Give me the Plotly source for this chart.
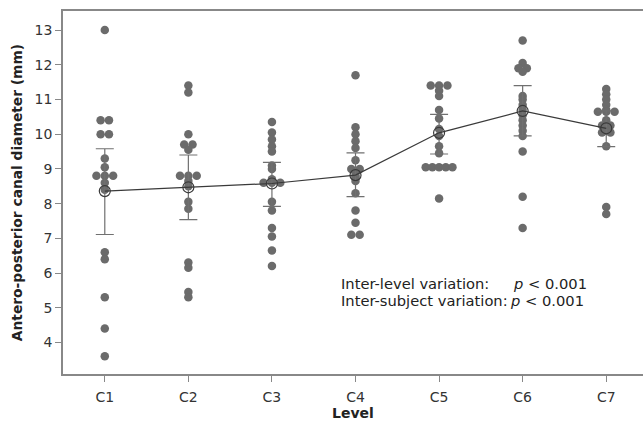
import plotly.graph_objects as go
from collections import Counter

levels = ["C1", "C2", "C3", "C4", "C5", "C6", "C7"]

c1 = [13.0, 10.4, 10.4, 10.0, 10.0, 9.3, 9.05, 8.8, 8.8, 8.8, 8.6, 8.4, 6.6, 6.4, 5.3, 4.4, 3.6]
c2 = [11.4, 11.2, 10.0, 9.7, 9.7, 9.55, 8.8, 8.8, 8.8, 8.65, 8.5, 8.05, 7.85, 6.3, 6.15, 5.45, 5.3]
c3 = [10.35, 10.05, 9.85, 9.65, 9.5, 9.1, 9.0, 8.7, 8.6, 8.6, 8.6, 8.05, 7.8, 7.3, 7.05, 6.65, 6.2]
c4 = [11.7, 10.2, 10.0, 9.8, 9.6, 9.25, 9.0, 9.0, 8.9, 8.8, 8.75, 8.65, 8.3, 7.8, 7.45, 7.1, 7.1]
c5 = [11.4, 11.4, 11.4, 11.25, 11.1, 10.7, 10.45, 10.15, 9.95, 9.65, 9.45, 9.05, 9.05, 9.05, 9.05, 9.05, 8.15]
c6 = [12.7, 12.05, 11.9, 11.9, 11.8, 11.1, 11.0, 10.85, 10.7, 10.55, 10.4, 10.25, 10.1, 9.95, 9.5, 8.2, 7.3]
c7 = [11.3, 11.15, 11.0, 10.85, 10.7, 10.65, 10.65, 10.65, 10.4, 10.25, 10.25, 10.1, 10.05, 10.05, 9.65, 7.9, 7.7]
values = [c1, c2, c3, c4, c5, c6, c7]

means = [8.36, 8.47, 8.58, 8.82, 10.04, 10.67, 10.17]
ci_upper = [9.58, 9.40, 9.19, 9.46, 10.57, 11.40, 10.67]
ci_lower = [7.11, 7.54, 7.92, 8.20, 9.43, 9.95, 9.64]

# individual points with side-by-side placement of equal values
px, py = [], []
for i, vals in enumerate(values):
    pos = i + 1
    counts = Counter(round(v, 2) for v in vals)
    seen = Counter()
    for v in vals:
        k = round(v, 2)
        n = counts[k]
        step = min(0.1, 0.32 / (n - 1)) if n > 1 else 0
        off = (seen[k] - (n - 1) / 2) * step
        seen[k] += 1
        px.append(pos + off)
        py.append(v)

xpos = list(range(1, len(levels) + 1))

fig = go.Figure()
fig.add_trace(go.Scatter(
    x=px, y=py, mode="markers",
    marker=dict(size=8.5, color="#6b6b6b", line=dict(width=0)),
    showlegend=False, hoverinfo="y"))

fig.add_trace(go.Scatter(
    x=xpos, y=means, mode="markers",
    marker=dict(size=1, color="rgba(0,0,0,0)"),
    error_y=dict(type="data", symmetric=False,
                 array=[u - m for u, m in zip(ci_upper, means)],
                 arrayminus=[m - l for m, l in zip(means, ci_lower)],
                 color="#707070", thickness=1.2, width=9),
    showlegend=False, hoverinfo="skip"))

fig.add_trace(go.Scatter(
    x=xpos, y=means, mode="lines+markers",
    line=dict(color="#3a3a3a", width=1.2),
    marker=dict(symbol="circle-open", size=11, color="#3a3a3a", line=dict(width=1.2)),
    showlegend=False))

font = "DejaVu Sans, Verdana, sans-serif"
ann_font = dict(family=font, size=14.7, color="#222")
fig.add_annotation(x=3.8, y=5.71, xref="x", yref="y", text="Inter-level variation:",
                   showarrow=False, xanchor="left", yanchor="middle", font=ann_font)
fig.add_annotation(x=5.86, y=5.71, xref="x", yref="y", text="<i>p</i> < 0.001",
                   showarrow=False, xanchor="left", yanchor="middle", font=ann_font)
fig.add_annotation(x=3.8, y=5.20, xref="x", yref="y", text="Inter-subject variation:",
                   showarrow=False, xanchor="left", yanchor="middle", font=ann_font)
fig.add_annotation(x=5.83, y=5.20, xref="x", yref="y", text="<i>p</i> < 0.001",
                   showarrow=False, xanchor="left", yanchor="middle", font=ann_font)

fig.update_layout(
    width=643, height=425,
    margin=dict(l=63, r=0, t=11, b=51),
    paper_bgcolor="white", plot_bgcolor="white",
    font=dict(family=font, size=14, color="#333"),
    xaxis=dict(range=[0.5, 7.44], tickmode="array", tickvals=xpos, ticktext=levels,
               showgrid=False, zeroline=False, showline=True, linecolor="#888",
               linewidth=1.5, mirror=True, ticks="outside", ticklen=6, tickcolor="#888",
               ticklabelstandoff=3,
               tickfont=dict(size=14, color="#333"),
               title=dict(text="<b>Level</b>", font=dict(size=14, color="#222"), standoff=4)),
    yaxis=dict(range=[3.09, 13.55], tickvals=[4, 5, 6, 7, 8, 9, 10, 11, 12, 13],
               showgrid=False, zeroline=False, showline=True, linecolor="#888",
               linewidth=1.5, ticks="outside", ticklen=6, tickcolor="#888",
               tickfont=dict(size=14, color="#333"),
               title=dict(text="<b>Antero-posterior canal diameter (mm)</b>",
                          font=dict(size=13.8, color="#222"), standoff=9)),
)

fig.write_html("out.html")
